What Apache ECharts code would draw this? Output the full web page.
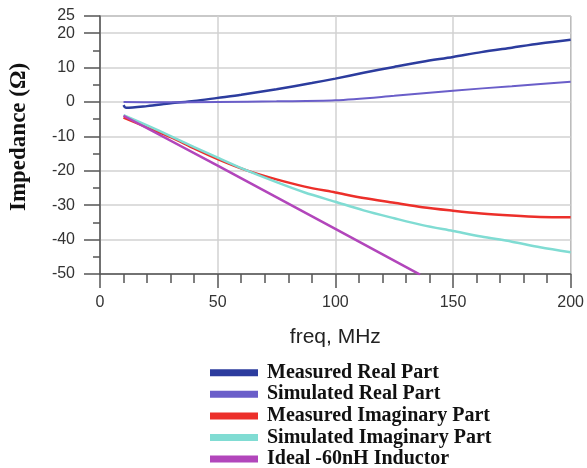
<!DOCTYPE html>
<html>
<head>
<meta charset="utf-8">
<script src="https://cdn.jsdelivr.net/npm/echarts@6/dist/echarts.min.js"></script>
<style>html,body{margin:0;padding:0;background:#fff}#c{width:587px;height:468px}</style>
</head>
<body>
<div id="c"></div>
<script>
// ---- data ----
var seriesNames = ['Measured Real Part', 'Simulated Real Part', 'Measured Imaginary Part', 'Simulated Imaginary Part', 'Ideal -60nH Inductor'];
var measuredReal = [[10,-0.9],[11,-1.7],[20,-1.2],[30,-0.4],[40,0.3],[50,1.2],[60,2.1],[75,3.7],[90,5.5],[100,6.8],[112,8.5],[125,10.2],[137,11.7],[150,13.1],[162,14.5],[175,15.8],[187,17.0],[200,18.1]];
var simulatedReal = [[10,0.0],[25,-0.1],[50,0.0],[75,0.2],[100,0.5],[125,1.8],[150,3.3],[175,4.6],[200,5.9]];
var measuredImag = [[10,-4.5],[20,-7.4],[30,-10.2],[40,-13.5],[50,-16.6],[62,-19.8],[75,-22.5],[87,-24.6],[100,-26.3],[112,-27.9],[125,-29.3],[137,-30.6],[150,-31.6],[162,-32.4],[175,-33.0],[187,-33.4],[200,-33.5]];
var simulatedImag = [[10,-3.8],[20,-6.8],[30,-9.9],[40,-13.1],[50,-16.2],[60,-19.2],[75,-23.3],[87,-26.3],[100,-29.0],[112,-31.5],[125,-33.8],[137,-35.8],[150,-37.5],[162,-39.1],[175,-40.6],[187,-42.2],[200,-43.7]];
var idealInductor = [[10,-4.0],[50,-18.5],[100,-36.9],[136,-50.2]];
var xTicks = {min: 0, max: 200, interval: 50};
var yTicks = {min: -50, max: 25, interval: 10};
var colors = ['#2c3c9e', '#6a5ec9', '#ec2f2a', '#80dcd3', '#b246bb'];

var chart = echarts.init(document.getElementById('c'), null, {renderer: 'canvas'});
var labelFont = {fontFamily: 'Liberation Sans, Arial, sans-serif', fontSize: 16, color: '#333'};

function line(name, data, idx, width, smooth) {
  return {
    name: name, type: 'line', data: data, showSymbol: false, smooth: smooth,
    lineStyle: {color: colors[idx], width: width}, itemStyle: {color: colors[idx]},
    clip: true, animation: false
  };
}

chart.setOption({
  animation: false,
  grid: {left: 97, right: 14, top: 16, bottom: 194, show: true, borderColor: '#666', borderWidth: 1, backgroundColor: 'transparent'},
  xAxis: {
    type: 'value', min: xTicks.min, max: xTicks.max, interval: xTicks.interval,
    name: 'freq, MHz', nameLocation: 'middle', nameGap: 53,
    nameTextStyle: {fontFamily: 'Liberation Sans, Arial, sans-serif', fontSize: 21, color: '#222'},
    axisLine: {show: true, onZero: false, lineStyle: {color: '#555', width: 1.5}},
    axisTick: {show: true, inside: false, length: 14, lineStyle: {color: '#555', width: 1.5}},
    minorTick: {show: true, splitNumber: 5, length: 9, lineStyle: {color: '#555', width: 1.5}},
    axisLabel: Object.assign({margin: 21}, labelFont),
    splitLine: {show: true, lineStyle: {color: '#d2d2d2', width: 1.5}}
  },
  yAxis: [{
    type: 'value', min: yTicks.min, max: yTicks.max, interval: yTicks.interval,
    name: 'Impedance (Ω)', nameLocation: 'middle', nameGap: 69, nameRotate: 90,
    nameTextStyle: {fontFamily: 'Liberation Serif, Times New Roman, serif', fontWeight: 'bold', fontSize: 23, color: '#111', padding: [0, 0, 0, 16]},
    axisLine: {show: true, onZero: false, lineStyle: {color: '#555', width: 1.5}},
    axisTick: {show: true, inside: false, length: 16, lineStyle: {color: '#555', width: 1.5}},
    axisLabel: Object.assign({margin: 25}, labelFont),
    splitLine: {show: true, lineStyle: {color: '#d2d2d2', width: 1.5}}
  }, {
    type: 'value', min: yTicks.min, max: yTicks.max, interval: 5, position: 'left', offset: 0,
    axisLine: {show: false, onZero: false},
    axisTick: {show: true, inside: false, length: 7, lineStyle: {color: '#555', width: 1.5}},
    axisLabel: {show: false},
    splitLine: {show: false}
  }],
  legend: {
    orient: 'vertical', left: 210, top: 362.7, height: 140, padding: 0,
    data: seriesNames,
    icon: 'rect', itemWidth: 48, itemHeight: 7, itemGap: 1.6,
    textStyle: {fontFamily: 'Liberation Serif, Times New Roman, serif', fontWeight: 'bold', fontSize: 20, color: '#111', padding: [0, 0, 0, 4]}
  },
  series: [
    line(seriesNames[0], measuredReal, 0, 2.5, 0.3),
    line(seriesNames[1], simulatedReal, 1, 2, 0.3),
    line(seriesNames[2], measuredImag, 2, 2.5, 0.3),
    line(seriesNames[3], simulatedImag, 3, 2.5, 0.3),
    line(seriesNames[4], idealInductor, 4, 2.5, false)
  ]
});
</script>
</body>
</html>
